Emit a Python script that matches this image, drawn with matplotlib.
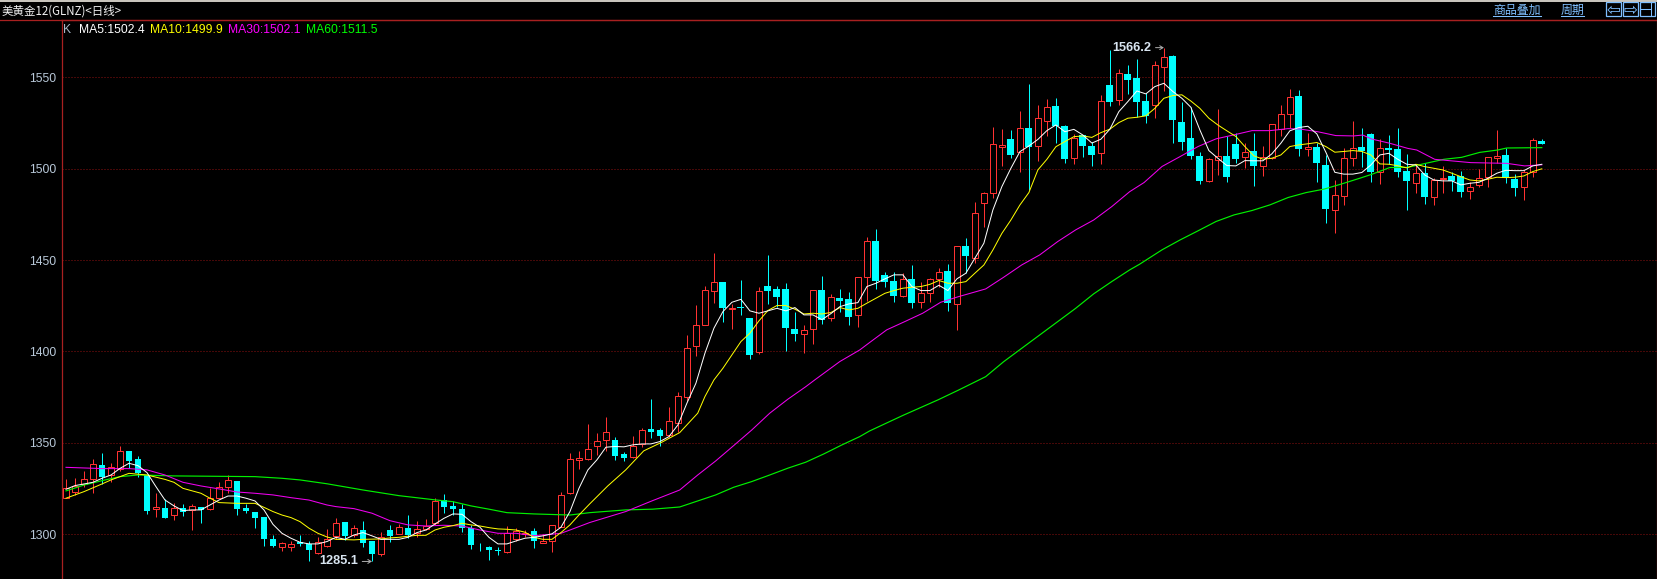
import matplotlib
matplotlib.use("Agg")
import matplotlib.pyplot as plt
from matplotlib.patches import Rectangle

######################################### Data ########################################################
# r = up day (hollow red), c = down day (solid cyan)
kinds = ("rrrrcrrccc" "rcrcrcrrrc" "ccccrrccrr" "rcrccrcrcr" "rrcccccccr" "rrcrrrrrrr"
         "rccrrccrrr" "rrrcrccrcc" "ccrrcrccrr" "cccrcrrrcr" "crrrrcrcrr" "ccrccrcrcc"
         "crrccccrrc" "crcrrrrcrc" "crrrccrccc" "rcrrccrrrr" "ccrrc")

highs = [1330.0, 1330.6, 1334.6, 1341.2, 1344.3, 1338.8, 1348.3, 1345.5, 1342.8, 1332.4,
         1322.4, 1319.3, 1317.0, 1316.4, 1316.6, 1314.7, 1325.1, 1328.6, 1332.4, 1329.1,
         1316.6, 1312.2, 1309.6, 1299.6, 1296.0, 1296.5, 1299.6, 1296.3, 1298.3, 1302.7,
         1308.7, 1306.9, 1305.1, 1307.4, 1296.5, 1301.4, 1305.1, 1305.6, 1310.5, 1307.3,
         1308.2, 1319.7, 1322.0, 1318.4, 1316.6, 1305.0, 1295.4, 1293.6, 1293.2, 1304.5,
         1303.3, 1302.3, 1303.3, 1300.2, 1305.0, 1323.1, 1344.3, 1345.6, 1360.4, 1355.6,
         1364.2, 1353.4, 1345.0, 1353.8, 1358.0, 1374.0, 1358.0, 1369.5, 1377.9, 1409.0,
         1425.5, 1435.8, 1453.7, 1438.0, 1426.0, 1439.1, 1418.3, 1435.1, 1452.8, 1435.8,
         1437.3, 1421.4, 1414.5, 1433.6, 1441.3, 1431.5, 1434.0, 1432.6, 1440.6, 1462.5,
         1466.8, 1443.3, 1443.7, 1442.8, 1447.3, 1438.0, 1440.0, 1445.5, 1447.9, 1457.9,
         1461.9, 1481.6, 1487.0, 1522.6, 1521.5, 1521.2, 1531.5, 1546.3, 1534.8, 1538.1,
         1538.7, 1523.9, 1518.8, 1518.4, 1514.8, 1540.4, 1565.0, 1554.6, 1556.8, 1560.0,
         1541.3, 1558.9, 1566.2, 1562.2, 1536.7, 1534.0, 1509.0, 1505.7, 1532.7, 1517.6,
         1519.7, 1513.9, 1519.4, 1512.5, 1524.3, 1534.9, 1543.4, 1543.1, 1519.4, 1513.9,
         1507.5, 1493.9, 1511.2, 1526.1, 1522.1, 1519.5, 1516.0, 1518.4, 1522.2, 1508.0,
         1502.0, 1502.9, 1495.1, 1501.5, 1498.4, 1498.7, 1492.9, 1500.0, 1506.6, 1521.2,
         1511.1, 1496.9, 1499.3, 1516.8, 1516.2]

tops = [1325.5, 1326.6, 1330.4, 1338.3, 1337.9, 1337.0, 1345.7, 1345.5, 1341.2, 1332.4,
        1314.7, 1314.2, 1314.5, 1314.2, 1315.3, 1314.7, 1319.7, 1326.0, 1329.5, 1329.1,
        1314.4, 1312.2, 1309.6, 1297.4, 1295.0, 1294.9, 1296.0, 1294.7, 1296.0, 1297.2,
        1306.0, 1306.9, 1303.3, 1302.3, 1296.5, 1298.7, 1302.3, 1303.8, 1303.3, 1302.7,
        1304.5, 1318.0, 1318.8, 1315.5, 1313.6, 1303.6, 1294.9, 1292.9, 1291.1, 1300.5,
        1301.6, 1300.5, 1301.8, 1296.3, 1304.9, 1321.3, 1341.0, 1341.6, 1346.5, 1350.9,
        1355.8, 1351.6, 1344.0, 1348.2, 1356.9, 1357.6, 1356.9, 1361.8, 1375.5, 1401.8,
        1414.3, 1433.5, 1437.8, 1438.0, 1423.8, 1424.2, 1418.3, 1432.9, 1435.8, 1434.2,
        1434.2, 1412.3, 1411.6, 1433.5, 1433.7, 1429.6, 1429.3, 1428.7, 1440.6, 1460.3,
        1460.3, 1441.7, 1438.6, 1439.5, 1439.5, 1431.8, 1439.5, 1443.3, 1444.0, 1457.5,
        1457.7, 1475.6, 1486.5, 1513.3, 1512.8, 1516.1, 1522.0, 1522.0, 1527.5, 1533.9,
        1534.3, 1523.3, 1516.6, 1518.4, 1512.4, 1536.9, 1545.8, 1552.2, 1551.8, 1549.6,
        1537.1, 1556.8, 1561.3, 1561.7, 1525.6, 1516.8, 1507.0, 1505.2, 1506.8, 1507.0,
        1513.4, 1509.0, 1509.7, 1506.6, 1524.3, 1529.8, 1539.1, 1539.8, 1511.9, 1511.9,
        1502.1, 1485.5, 1505.7, 1511.2, 1511.9, 1518.9, 1511.1, 1511.1, 1510.8, 1498.7,
        1497.5, 1497.5, 1493.8, 1495.1, 1496.0, 1496.0, 1490.2, 1495.1, 1506.6, 1507.1,
        1507.3, 1494.4, 1498.0, 1515.5, 1514.9]

bottoms = [1320.0, 1322.9, 1327.3, 1330.4, 1331.3, 1332.2, 1335.5, 1340.3, 1333.3, 1312.9,
           1313.8, 1309.1, 1310.7, 1312.4, 1313.3, 1313.3, 1313.6, 1320.0, 1326.0, 1313.8,
           1312.7, 1309.1, 1297.4, 1293.6, 1293.2, 1293.2, 1294.7, 1291.4, 1289.9, 1293.6,
           1299.0, 1299.0, 1299.6, 1295.4, 1289.2, 1289.2, 1299.0, 1300.3, 1299.4, 1300.5,
           1303.0, 1306.0, 1314.7, 1313.8, 1303.3, 1294.1, 1294.5, 1291.6, 1290.8, 1290.5,
           1297.2, 1300.2, 1296.5, 1295.4, 1296.1, 1304.2, 1322.8, 1340.7, 1341.0, 1348.0,
           1351.3, 1342.9, 1341.8, 1342.0, 1349.1, 1356.0, 1353.8, 1354.4, 1361.1, 1375.0,
           1403.2, 1414.7, 1433.3, 1423.8, 1423.4, 1424.0, 1398.1, 1399.6, 1433.3, 1429.8,
           1412.9, 1409.8, 1409.8, 1412.1, 1417.0, 1418.2, 1427.8, 1419.1, 1420.2, 1440.9,
           1438.6, 1438.2, 1430.4, 1430.5, 1426.7, 1427.3, 1431.8, 1439.5, 1426.4, 1425.8,
           1452.4, 1451.0, 1481.0, 1486.5, 1512.0, 1507.5, 1508.9, 1512.0, 1512.6, 1526.3,
           1523.5, 1505.5, 1506.0, 1512.6, 1507.5, 1508.8, 1536.5, 1537.3, 1548.6, 1536.5,
           1528.9, 1535.0, 1555.8, 1526.7, 1514.6, 1507.0, 1493.3, 1493.5, 1505.0, 1495.7,
           1505.3, 1506.6, 1501.7, 1501.7, 1505.7, 1521.8, 1529.8, 1511.0, 1511.0, 1503.2,
           1478.0, 1477.6, 1485.3, 1505.7, 1509.8, 1498.2, 1498.4, 1510.2, 1498.2, 1493.4,
           1492.0, 1484.7, 1484.7, 1494.2, 1493.3, 1487.4, 1487.6, 1490.9, 1495.3, 1506.0,
           1494.7, 1489.6, 1490.2, 1498.4, 1513.7]

lows = [1319.7, 1321.5, 1326.0, 1322.8, 1327.3, 1328.8, 1334.8, 1336.0, 1331.5, 1311.1,
        1309.6, 1309.1, 1307.8, 1310.0, 1302.3, 1306.4, 1313.3, 1319.7, 1322.8, 1310.5,
        1311.6, 1303.3, 1293.6, 1293.0, 1291.0, 1290.9, 1293.6, 1285.4, 1289.2, 1293.2,
        1297.2, 1296.9, 1298.3, 1292.9, 1285.1, 1288.3, 1296.0, 1300.2, 1297.8, 1298.3,
        1302.3, 1305.1, 1311.5, 1310.5, 1301.4, 1291.8, 1290.9, 1285.9, 1288.7, 1289.6,
        1296.5, 1298.7, 1292.5, 1295.0, 1290.5, 1303.8, 1322.0, 1335.7, 1340.5, 1343.4,
        1345.8, 1340.7, 1340.3, 1341.6, 1347.6, 1352.7, 1348.0, 1353.4, 1356.0, 1373.1,
        1397.7, 1414.5, 1426.7, 1416.3, 1412.3, 1420.0, 1396.1, 1398.8, 1426.0, 1424.5,
        1400.3, 1405.8, 1399.4, 1404.1, 1415.2, 1416.9, 1421.8, 1414.5, 1413.6, 1427.8,
        1434.0, 1435.5, 1427.3, 1430.0, 1424.0, 1424.0, 1427.3, 1435.5, 1422.3, 1411.8,
        1442.8, 1448.6, 1468.3, 1484.1, 1501.5, 1506.0, 1498.4, 1488.3, 1504.4, 1517.9,
        1513.9, 1503.3, 1502.6, 1506.2, 1501.5, 1502.6, 1534.3, 1534.9, 1540.9, 1528.1,
        1525.2, 1527.9, 1542.7, 1514.3, 1510.3, 1505.3, 1491.7, 1492.8, 1496.6, 1492.8,
        1503.0, 1500.2, 1490.6, 1496.0, 1505.2, 1517.6, 1522.1, 1507.0, 1507.0, 1492.8,
        1470.5, 1465.0, 1480.2, 1501.5, 1500.9, 1492.9, 1491.8, 1502.4, 1495.6, 1477.4,
        1486.9, 1480.7, 1480.1, 1486.9, 1487.8, 1484.7, 1483.4, 1490.2, 1490.2, 1502.9,
        1492.4, 1485.2, 1482.9, 1495.6, 1513.7]

ma5 = [1324.6, 1326.6, 1327.5, 1328.4, 1330.6, 1332.4, 1336.0, 1338.8, 1337.5, 1333.7,
       1326.0, 1318.7, 1315.5, 1312.9, 1313.3, 1313.3, 1316.0, 1318.7, 1320.9, 1320.9,
       1319.7, 1318.2, 1313.3, 1305.4, 1300.5, 1297.8, 1295.6, 1294.7, 1294.7, 1296.0,
       1298.3, 1297.2, 1299.6, 1300.9, 1299.1, 1297.2, 1297.2, 1297.2, 1298.3, 1300.9,
       1302.3, 1305.6, 1308.7, 1311.1, 1310.9, 1306.9, 1303.8, 1298.3, 1294.7, 1294.7,
       1296.3, 1297.8, 1298.3, 1299.1, 1300.2, 1303.8, 1312.4, 1325.1, 1335.2, 1340.7,
       1347.6, 1348.0, 1347.8, 1348.9, 1349.4, 1349.4, 1350.7, 1353.4, 1359.8, 1371.7,
       1382.6, 1399.0, 1412.7, 1421.8, 1426.9, 1428.5, 1422.2, 1420.9, 1422.2, 1423.6,
       1422.2, 1424.0, 1420.0, 1420.0, 1417.4, 1420.7, 1424.5, 1426.0, 1426.7, 1435.5,
       1437.3, 1439.7, 1441.9, 1441.9, 1435.5, 1433.3, 1433.3, 1436.2, 1433.3, 1439.7,
       1442.8, 1451.0, 1459.2, 1477.4, 1490.2, 1500.2, 1509.3, 1512.4, 1516.0, 1520.8,
       1523.9, 1520.2, 1521.5, 1518.4, 1514.0, 1516.1, 1521.6, 1531.2, 1536.7, 1542.5,
       1540.9, 1544.9, 1546.7, 1542.2, 1538.5, 1533.6, 1521.2, 1509.9, 1505.7, 1501.7,
       1501.5, 1504.4, 1504.3, 1504.3, 1508.1, 1513.9, 1520.7, 1522.5, 1523.2, 1519.0,
       1509.0, 1498.0, 1497.0, 1497.0, 1497.9, 1502.0, 1507.5, 1508.4, 1505.1, 1502.4,
       1502.0, 1496.5, 1493.8, 1493.3, 1493.3, 1491.1, 1492.0, 1492.5, 1494.7, 1497.5,
       1499.1, 1498.9, 1498.9, 1501.5, 1502.4]

ma10_x = [0, 2, 4, 5, 6, 7, 9, 11, 12, 13, 15, 16, 17, 19, 21, 22, 23, 24, 25, 26, 27, 28, 29,
          30, 32, 33, 35, 36, 37, 38, 39, 40, 41, 42, 43, 44, 45, 46, 47, 48, 49, 50, 51, 52, 53,
          54, 55, 56, 57, 58.2, 60.2, 62.2, 64.2, 66.2, 68.2, 70.2, 71, 72, 73, 74, 75, 76, 77, 78,
          79, 80, 81, 82, 83, 84, 85, 86, 87, 88, 89, 90, 91, 92, 93, 94, 95, 96, 97, 98, 99, 100,
          101, 102, 103, 104, 105, 106, 107, 108, 109, 110, 111, 112, 113, 114, 115, 116, 117, 118,
          119, 120, 121, 122, 123, 124, 125, 126, 127, 128, 129, 130, 131, 132, 133, 134, 135, 136,
          137, 138, 139, 140, 141, 142, 143, 144, 145, 146, 147, 148, 149, 150, 151, 152, 153, 154,
          155, 156, 157, 158, 159, 160, 161, 162, 163, 164]
ma10 = [1319.7, 1323.3, 1327.5, 1329.7, 1331.5, 1333.3, 1332.4, 1330.0, 1328.4, 1325.1, 1322.4,
        1319.7, 1317.3, 1316.9, 1316.9, 1314.7, 1312.4, 1310.5, 1309.1, 1306.9, 1303.3, 1300.5, 1298.5,
        1297.2, 1296.9, 1297.2, 1297.4, 1298.0, 1298.3, 1298.9, 1299.4, 1299.4, 1302.3, 1303.8, 1304.7,
        1306.0, 1305.1, 1304.5, 1303.6, 1302.9, 1302.7, 1302.3, 1301.1, 1298.3, 1297.2,
        1297.2, 1300.9, 1305.1, 1310.5, 1316.6, 1326.4, 1335.2, 1345.6, 1350.3, 1355.6, 1366.2, 1375.3,
        1384.4, 1390.8, 1398.1, 1405.4, 1410.0, 1416.7, 1422.4,
        1425.1, 1425.1, 1423.1, 1420.5, 1420.9, 1420.5, 1421.3, 1424.0, 1422.7, 1423.6, 1426.4, 1429.1,
        1431.8, 1433.3, 1434.6, 1435.1, 1435.5, 1436.7, 1438.8, 1437.3, 1437.3, 1438.2,
        1442.8, 1447.3, 1455.5, 1464.6, 1471.9, 1480.1, 1486.9, 1499.3, 1505.1, 1512.0, 1514.8, 1517.5,
        1517.9, 1517.1, 1519.7, 1521.6, 1525.2, 1527.6,
        1528.1, 1528.9, 1533.0, 1538.5, 1540.0, 1540.4, 1537.0, 1533.0, 1527.6, 1523.9, 1520.7, 1517.6,
        1512.1, 1507.0, 1505.2, 1505.7, 1507.5, 1512.1,
        1513.0, 1513.6, 1514.3, 1512.1, 1509.0, 1509.4, 1509.9, 1509.4, 1507.5, 1502.6, 1502.4, 1501.6,
        1500.4, 1502.4, 1501.1, 1500.2, 1499.3, 1497.5,
        1495.6, 1493.8, 1493.3, 1494.2, 1495.3, 1495.1, 1495.3, 1496.0, 1498.4, 1499.9]

ma30_x = [0, 4, 7, 9, 11, 13, 15, 17, 19, 21, 23, 25, 27, 29, 30, 32, 34, 36, 38, 40, 42, 44, 46,
          48, 50, 52, 54, 55, 56, 58.2, 62.2, 65.2, 68.2, 70.2, 72.2, 74.2, 76.2, 78.2, 80.2, 82.2,
          83.2, 86, 88.2, 89.2, 91.2, 93.2, 95.2, 97.2, 99.2, 102.2, 104.2, 106.2, 108.2, 110.2,
          112.2, 114.2, 116.2, 118.2, 119.8, 121.8, 123.8, 125.8, 127.8, 129.8, 131.8, 133.8, 135.8,
          137.1, 139.1, 141.1, 143.1, 144.1, 145.1, 147.1, 149.1, 150.1, 152.1, 154.1, 156.1, 158.1,
          160.1, 162.1, 164]
ma30 = [1336.6, 1335.9, 1335.9, 1335.2, 1332.4, 1328.4, 1326.4, 1324.8, 1323.1, 1322.4, 1321.5, 1320.0,
        1318.7, 1316.0, 1315.1, 1314.0, 1311.5, 1307.4, 1305.1, 1304.5, 1304.9, 1304.5, 1302.3,
        1300.5, 1300.5, 1299.2, 1300.0, 1300.5, 1302.3, 1306.4, 1312.4, 1318.4, 1324.2, 1332.4, 1340.1,
        1348.5, 1357.0, 1366.2, 1373.8, 1380.7,
        1384.4, 1394.5, 1400.8, 1404.5, 1411.8, 1416.3, 1420.9, 1426.9, 1430.0, 1434.2, 1440.6, 1447.3,
        1452.8, 1460.1, 1466.5, 1471.9, 1479.2, 1487.4, 1492.4, 1501.2, 1506.6, 1512.1, 1516.3, 1518.5,
        1520.8, 1520.8, 1521.9, 1521.7, 1520.2, 1518.1, 1517.9, 1518.4, 1516.2, 1513.9, 1511.1, 1510.2,
        1505.1, 1504.2, 1503.3, 1503.1, 1502.9, 1501.5, 1502.1]

ma60_x = [0, 2, 4, 6, 8, 12, 21, 24, 26, 29, 33, 37, 41, 43, 45, 47, 49, 52, 56, 58.2, 62.2, 65.2,
          68.2, 70.2, 72.2, 74.2, 76.2, 78.2, 80.2, 82.2, 84.2, 86.2, 88.2, 89.3, 93, 96.9, 99.2,
          102.2, 104.2, 106.2, 108.2, 110.2, 112.2, 114.2, 116.2, 118.2, 119.3, 121.8, 123.8, 125.8,
          127.8, 129.8, 131.8, 133.8, 135.8, 137.8, 139.8, 141.8, 143.8, 145.1, 147.1, 149.1, 151.1,
          153.1, 155.1, 157.1, 159.1, 160.1, 164]
ma60 = [1323.7, 1326.9, 1329.3, 1331.5, 1332.4, 1331.9, 1331.5, 1330.6, 1329.7, 1327.6, 1324.2, 1321.1,
        1318.8, 1317.8, 1315.5, 1313.7, 1311.8, 1311.1, 1310.5, 1311.8, 1313.3, 1313.7,
        1314.9, 1318.2, 1321.5, 1325.7, 1328.8, 1332.4, 1336.1, 1339.4, 1343.9, 1348.8, 1353.4, 1356.5,
        1365.0, 1373.5, 1378.9, 1386.2, 1394.4, 1401.7, 1409.0, 1416.3, 1423.6, 1431.5, 1438.2, 1444.6,
        1447.7, 1455.6, 1461.0, 1466.0, 1471.1, 1474.7, 1477.1, 1480.2, 1484.2, 1486.9, 1488.8, 1491.7,
        1494.8, 1496.9, 1500.6, 1500.7, 1502.9, 1505.1, 1506.2, 1508.9, 1510.2, 1511.3, 1511.5]

price_ticks = [1300, 1350, 1400, 1450, 1500, 1550]
legend_items = [("K", "#a8b8c8", 63), ("MA5:1502.4", "#ffffff", 79), ("MA10:1499.9", "#ffff00", 150),
                ("MA30:1502.1", "#ff00ff", 228), ("MA60:1511.5", "#00ff00", 306)]

######################################### Plot ########################################################
W, H = 1658, 579
RED = "#ff3232"
CYAN = "#00ffff"
BORDER = "#a82020"
LINK = "#7fbfff"
CJK = ["Noto Sans CJK SC", "DejaVu Sans"]
plt.rcParams["font.family"] = ["Liberation Sans", "DejaVu Sans"]

fig = plt.figure(figsize=(W / 100, H / 100), dpi=100, facecolor="black")
ax = fig.add_axes([61.5 / W, 0, (1657 - 61.5) / W, (H - 19.5) / H], facecolor="black")
ax.set_xlim(-0.5, 176.8)
ax.set_ylim(1275.5, 1581.6)

ax.set_yticks(price_ticks)
ax.set_xticks([])
ax.tick_params(axis="y", length=0, pad=3.5, labelcolor="#b8c8d8", labelsize=8.8)
for side, spine in ax.spines.items():
    spine.set_color(BORDER)
    spine.set_linewidth(0.9)
ax.spines["bottom"].set_visible(False)
ax.yaxis.grid(True, color="#8c1010", linestyle=(0, (1, 2)), linewidth=0.72)
ax.set_axisbelow(True)

days = list(range(len(kinds)))
up = [i for i in days if kinds[i] == "r"]
down = [i for i in days if kinds[i] == "c"]

ax.vlines(up, [lows[i] for i in up], [highs[i] for i in up], color=RED, linewidth=0.72, zorder=2)
ax.vlines(down, [lows[i] for i in down], [highs[i] for i in down], color=CYAN, linewidth=0.72, zorder=2)
ax.bar(up, [tops[i] - bottoms[i] for i in up], bottom=[bottoms[i] for i in up], width=0.68,
       facecolor="black", edgecolor=RED, linewidth=0.72, zorder=3)
ax.bar(down, [tops[i] - bottoms[i] for i in down], bottom=[bottoms[i] for i in down], width=0.76,
       color=CYAN, linewidth=0, zorder=3)

ax.plot(ma60_x, ma60, color="#00f000", linewidth=0.85, zorder=4)
ax.plot(ma30_x, ma30, color="#f000f0", linewidth=0.75, zorder=4)
ax.plot(ma10_x, ma10, color="#ffff00", linewidth=0.72, zorder=5)
ax.plot(days, ma5, color="#ffffff", linewidth=0.72, zorder=6)

# high and low markers
arrow = dict(arrowstyle="->,head_length=0.25,head_width=0.15", color="#b0b0b0", linewidth=0.7,
             shrinkA=1, shrinkB=0)
ax.annotate("1566.2", xy=(122, 1566.2), xytext=(-9, 0), textcoords="offset points", ha="right",
            va="center", color="#d8e4f0", fontsize=9.2, fontweight="bold", arrowprops=arrow, zorder=7)
ax.annotate("1285.1", xy=(34, 1285.1), xytext=(-10, 0), textcoords="offset points", ha="right",
            va="center", color="#d8e4f0", fontsize=9.2, fontweight="bold", arrowprops=arrow, zorder=7)

# legend row under the header
for label, color, px in legend_items:
    fig.text(px / W, 1 - 30 / H, label, color=color, fontsize=8.7, ha="left", va="center")

# header strip
fig.add_artist(Rectangle((0, 1 - 2 / H), 1, 2 / H, transform=fig.transFigure, facecolor="#c8c4bc", edgecolor="none"))
fig.text(2 / W, 1 - 11 / H, "美黄金12(GLNZ)<日线>", color="#f0f0f0", fontsize=8.3, family=CJK, ha="left", va="center")
fig.text(1493 / W, 1 - 10 / H, "商品叠加", color=LINK, fontsize=8.6, family=CJK, ha="left", va="center")
fig.text(1561 / W, 1 - 10 / H, "周期", color=LINK, fontsize=8.6, family=CJK, ha="left", va="center")
for px0, px1 in [(1493, 1541), (1561, 1584)]:
    fig.add_artist(plt.Line2D([px0 / W, px1 / W], [1 - 16 / H, 1 - 16 / H], color=LINK, linewidth=0.75))
for px in [1606, 1623, 1640]:
    fig.add_artist(Rectangle((px / W, 1 - 15.5 / H), 15 / W, 13 / H, transform=fig.transFigure,
                             facecolor="black", edgecolor=LINK, linewidth=0.9))
fig.text(1613.5 / W, 1 - 9.5 / H, "⇦", color=LINK, fontsize=12, family=["DejaVu Sans"], ha="center", va="center")
fig.text(1630.5 / W, 1 - 9.5 / H, "⇨", color=LINK, fontsize=12, family=["DejaVu Sans"], ha="center", va="center")
fig.add_artist(plt.Line2D([1651 / W, 1651 / W], [1 - 15 / H, 1 - 3 / H], color=LINK, linewidth=0.75))
fig.add_artist(plt.Line2D([1640 / W, 1651 / W], [1 - 9 / H, 1 - 9 / H], color=LINK, linewidth=0.75))

# top rule across the whole width
fig.add_artist(plt.Line2D([0, 1], [1 - 19.5 / H, 1 - 19.5 / H], color=BORDER, linewidth=0.9))

fig.savefig("out.png", dpi=100, facecolor="black")
